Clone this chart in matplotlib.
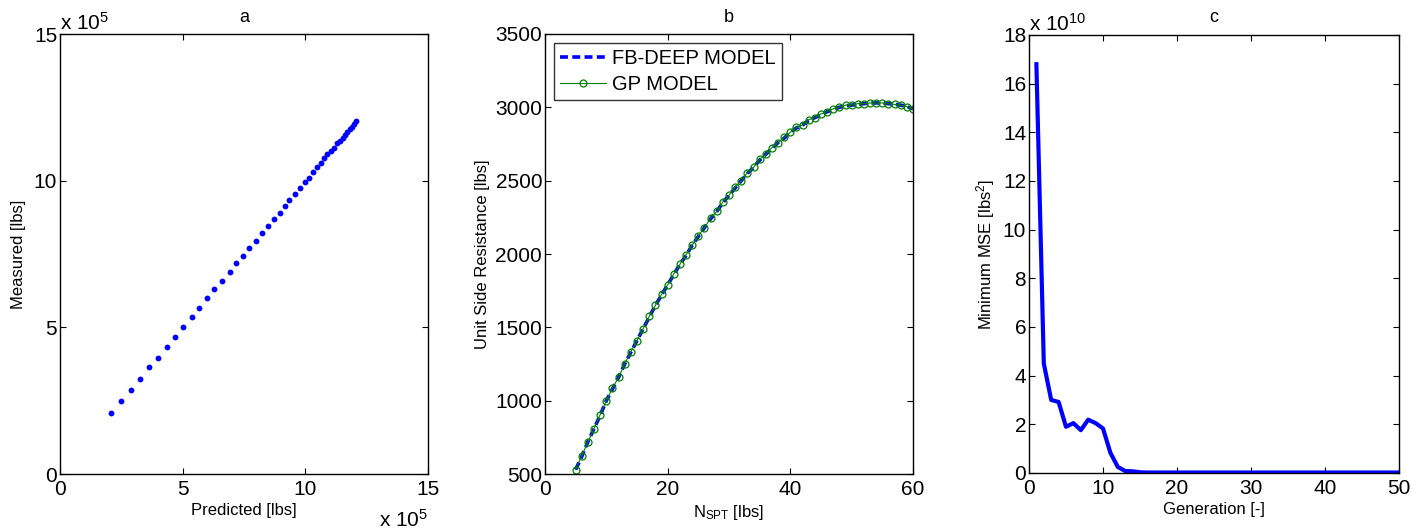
import numpy as np
import matplotlib
matplotlib.use("Agg")
import matplotlib.pyplot as plt
import matplotlib.ticker as ticker

plt.rcParams['font.family'] = ['Liberation Sans', 'DejaVu Sans']
plt.rcParams['mathtext.fontset'] = 'custom'
plt.rcParams['mathtext.rm'] = 'Liberation Sans'
plt.rcParams['mathtext.it'] = 'Liberation Sans'

# panel a: measured vs predicted (lbs)
predicted = [2.09, 2.49, 2.88, 3.25, 3.64, 4.00, 4.35, 4.70, 5.01, 5.37, 5.68, 5.98,
             6.29, 6.62, 6.92, 7.19, 7.45, 7.72, 7.99, 8.25, 8.48, 8.74, 8.96, 9.19,
             9.35, 9.58, 9.78, 9.97, 10.15, 10.33, 10.46, 10.64, 10.78, 10.90, 11.04,
             11.17, 11.31, 11.41, 11.52, 11.62, 11.71, 11.82, 11.92, 12.00, 12.07]
measured = [2.08, 2.49, 2.86, 3.23, 3.64, 3.97, 4.34, 4.67, 5.00, 5.34, 5.67, 6.00,
            6.30, 6.59, 6.89, 7.18, 7.44, 7.69, 7.95, 8.22, 8.47, 8.69, 8.91, 9.14,
            9.35, 9.53, 9.76, 9.94, 10.09, 10.28, 10.47, 10.61, 10.76, 10.91, 11.01,
            11.13, 11.27, 11.36, 11.46, 11.57, 11.66, 11.75, 11.84, 11.92, 12.03]
predicted = [v * 1e5 for v in predicted]
measured = [v * 1e5 for v in measured]

# panel b: unit side resistance vs N_SPT
nspt = list(range(5, 61))
fb_deep = [530, 620, 720, 810, 900, 1000, 1080, 1160, 1250, 1330, 1410, 1490, 1570,
           1650, 1720, 1790, 1860, 1930, 1990, 2060, 2120, 2180, 2240, 2290, 2350,
           2400, 2450, 2500, 2550, 2590, 2640, 2680, 2720, 2760, 2790, 2830, 2860,
           2880, 2910, 2930, 2950, 2970, 2985, 3000, 3010, 3015, 3020, 3025, 3030,
           3030, 3030, 3025, 3020, 3015, 3005, 2990]
gp_model = [530, 625, 720, 810, 905, 1000, 1085, 1160, 1250, 1335, 1410, 1490, 1575,
            1650, 1725, 1790, 1865, 1930, 1995, 2060, 2125, 2180, 2245, 2290, 2355,
            2400, 2455, 2500, 2555, 2590, 2645, 2680, 2725, 2760, 2795, 2830, 2865,
            2880, 2915, 2930, 2955, 2970, 2990, 3000, 3015, 3015, 3025, 3025, 3030,
            3030, 3030, 3025, 3020, 3015, 3005, 2990]

# panel c: minimum MSE per generation
generation = list(range(1, 51))
min_mse = [16.8, 4.5, 3.0, 2.92, 1.9, 2.05, 1.76, 2.19, 2.05, 1.83, 0.83, 0.25, 0.08,
           0.07, 0.03] + [0.02] * 35
min_mse = [v * 1e10 for v in min_mse]

W, H = 1412, 532
fig = plt.figure(figsize=(W / 100, H / 100), dpi=100)

def box(l, r, t, b):
    return [l / W, (H - b) / H, (r - l) / W, (b - t) / H]

ax1 = fig.add_axes(box(60, 428, 34, 474))
ax2 = fig.add_axes(box(545, 913, 34, 474))
ax3 = fig.add_axes(box(1029, 1399, 35, 473))

TICK = 15
LAB = 12

for ax in (ax1, ax2, ax3):
    ax.tick_params(direction='in', top=True, right=True, length=4, width=0.8,
                   labelsize=TICK)
    ax.tick_params(axis='x', pad=4)
    ax.tick_params(axis='y', pad=2)
    for s in ax.spines.values():
        s.set_linewidth(1.0)

# a
ax1.plot(predicted, measured, 'o', color='#0000ff', markersize=4.2, markeredgewidth=0)
ax1.set_xlim(0, 15e5)
ax1.set_ylim(0, 15e5)
ax1.xaxis.set_major_locator(ticker.MultipleLocator(5e5))
ax1.yaxis.set_major_locator(ticker.MultipleLocator(5e5))
sc = ticker.FuncFormatter(lambda v, p: '%g' % (v / 1e5))
ax1.xaxis.set_major_formatter(sc)
ax1.yaxis.set_major_formatter(sc)
ax1.set_xlabel('Predicted [lbs]', fontsize=LAB, labelpad=3)
ax1.set_ylabel('Measured [lbs]', fontsize=LAB, labelpad=6)
ax1.set_title('a', fontsize=13, pad=9)
ax1.text(0.0, 1.0, r'x 10$^{5}$', transform=ax1.transAxes, fontsize=15,
         ha='left', va='bottom')
ax1.text(1.0, -0.12, r'x 10$^{5}$', transform=ax1.transAxes, fontsize=15,
         ha='right', va='baseline')

# b
ax2.plot(nspt, fb_deep, '--', color='#0000ff', linewidth=2.6, dashes=(2.2, 1.2),
         label='FB-DEEP MODEL')
ax2.plot(nspt, gp_model, '-', color='#008000', linewidth=0.8, marker='o',
         markersize=5, markerfacecolor='none', markeredgewidth=0.9, label='GP MODEL')
ax2.set_xlim(0, 60)
ax2.set_ylim(500, 3500)
ax2.xaxis.set_major_locator(ticker.MultipleLocator(20))
ax2.yaxis.set_major_locator(ticker.MultipleLocator(500))
ax2.set_xlabel(r'N$_{\mathrm{SPT}}$ [lbs]', fontsize=LAB, labelpad=3)
ax2.set_ylabel('Unit Side Resistance [lbs]', fontsize=LAB, labelpad=4)
ax2.set_title('b', fontsize=13, pad=9)
leg = ax2.legend(loc='upper left', fontsize=14.5, frameon=True, fancybox=False,
                 edgecolor='black', handlelength=2.3, handletextpad=0.3,
                 borderpad=0.3, labelspacing=0.35, borderaxespad=0.45)
leg.get_frame().set_linewidth(1.0)

# c
ax3.plot(generation, min_mse, '-', color='#0000ff', linewidth=3)
ax3.set_xlim(0, 50)
ax3.set_ylim(0, 18e10)
ax3.xaxis.set_major_locator(ticker.MultipleLocator(10))
ax3.yaxis.set_major_locator(ticker.MultipleLocator(2e10))
ax3.yaxis.set_major_formatter(ticker.FuncFormatter(lambda v, p: '%g' % (v / 1e10)))
ax3.set_xlabel('Generation [-]', fontsize=LAB, labelpad=3)
ax3.set_ylabel(r'Minimum MSE [lbs$^{2}$]', fontsize=LAB, labelpad=4)
ax3.set_title('c', fontsize=13, pad=9)
ax3.text(0.0, 1.0, r'x 10$^{10}$', transform=ax3.transAxes, fontsize=15,
         ha='left', va='bottom')

fig.savefig('out.png', dpi=100, facecolor='white')
